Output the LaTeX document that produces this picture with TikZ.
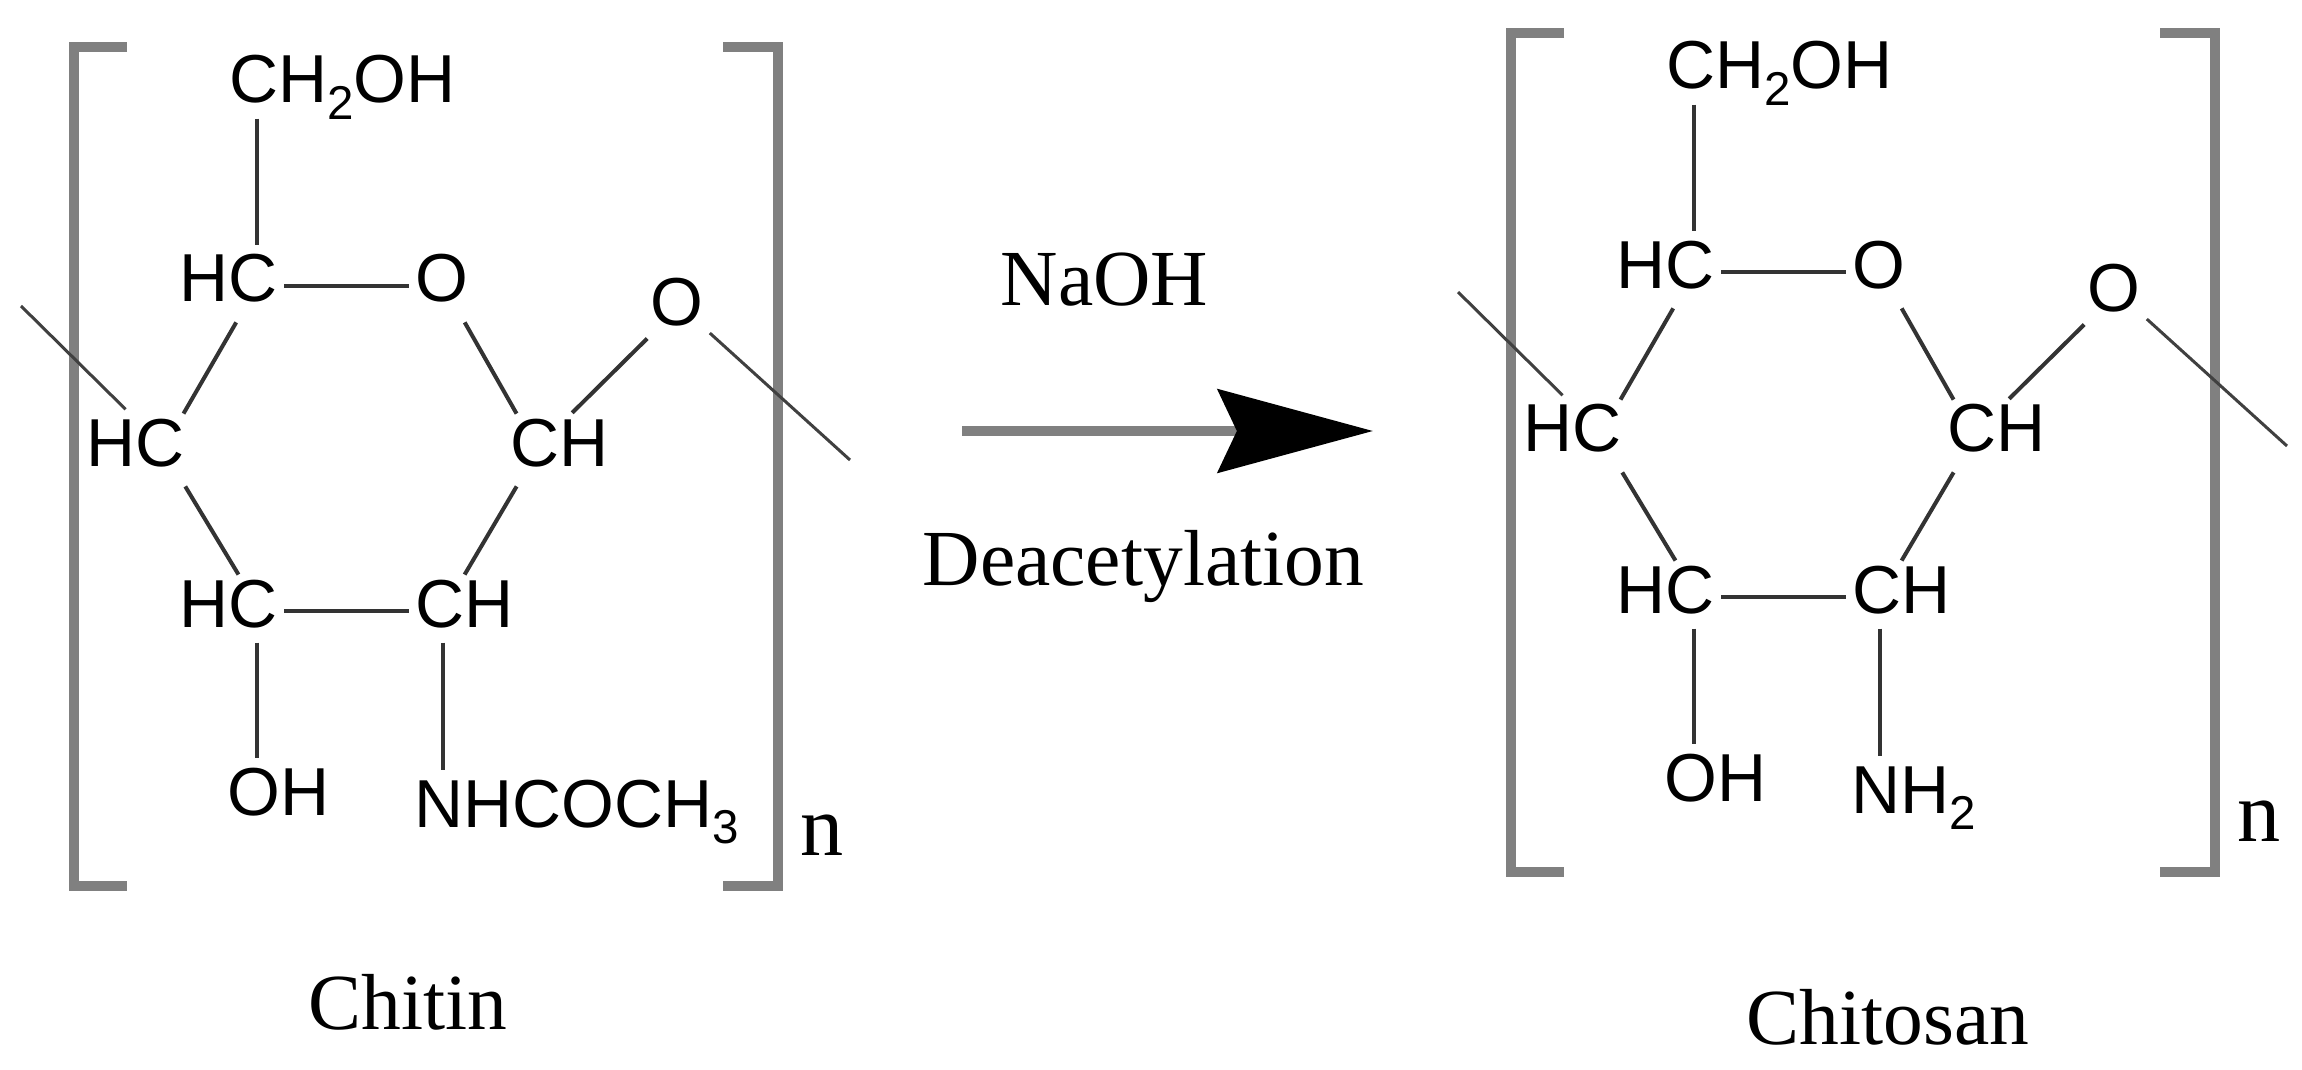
\documentclass[tikz,border=0pt]{standalone}
\usepackage{fontspec}
\setmainfont{Liberation Serif}
\newfontfamily\chemfont{Liberation Sans}
\usetikzlibrary{arrows.meta}
\newcommand{\chemsub}[1]{\raisebox{-0.16cm}{\fontsize{13.5}{14}\selectfont #1}}
\tikzstyle{atom} = [anchor=base west, inner xsep=0.06cm, inner ysep=0pt,
text height=0.56cm,
text depth=0.24cm,
font=\chemfont\fontsize{19.3}{22}\selectfont]
\tikzstyle{caption} = [anchor=base west, inner sep=0pt,
font=\fontsize{22.6}{26}\selectfont]
\tikzstyle{repeat} = [anchor=base west, inner sep=0pt,
font=\fontsize{24.5}{26}\selectfont]
\tikzstyle{bond} = [line width=0.04cm, draw=black!80]
\tikzstyle{ringbond} = [bond, shorten <=-0.05cm, shorten >=-0.05cm]
\tikzstyle{stem} = [bond, shorten <=-0.09cm]
\tikzstyle{thinbond} = [line width=0.03cm, draw=black!75]
\tikzstyle{sidebracket} = [line width=0.1cm, draw=black!50]
\tikzstyle{reaction} = [line width=0.1cm, draw=black!50,
-{Stealth[black,length=1.55cm,width=0.83cm,inset=0.19cm]}]

\begin{document}
\begin{tikzpicture}[x=0.01cm,y=-0.01cm]
        \useasboundingbox (0,0) rectangle (2302,1070);
        \foreach \u/\sx/\sy/\grp in {a/0/0/{NHCOCH\chemsub{3}}, b/1437/-14/{NH\chemsub{2}}} {
        \begin{scope}[shift={(\sx,\sy)}]
        \draw [sidebracket] (127,47) -- (74,47) -- (74,886) -- (127,886);
        \draw [sidebracket] (723,47) -- (778,47) -- (778,886) -- (723,886);
        \node (\u top) [atom] at (222.6,103) {CH\chemsub{2}OH};
        \node (\u c5) [atom] at (173,302) {HC};
        \node (\u o5) [atom] at (408.6,302) {O};
        \node (\u o1) [atom] at (643.6,325) {O};
        \node (\u c4) [atom] at (80,466) {HC};
        \node (\u c1) [atom] at (503.6,466) {CH};
        \node (\u c3) [atom] at (173,627) {HC};
        \node (\u c2) [atom] at (408.6,627) {CH};
        \node (\u oh) [atom] at (220.6,815) {OH};
        \node (\u grp) [atom] at (408,827) {\grp};
        \node (\u n) [repeat] at (800,855) {n};
        \coordinate (\u left) at (21,306);
        \coordinate (\u right) at (850,460);
        \draw [stem] (\u c5.55 |- \u top.south) -- (\u c5.55);
        \draw [bond] (\u c5.east) -- (\u o5.west);
        \draw [ringbond] (\u c5.-83) -- (\u c4.39);
        \draw [ringbond] (\u c4.-38) -- (\u c3.80);
        \draw [bond] (\u c3.east) -- (\u c2.west);
        \draw [stem] (\u c3.-55) -- (\u c3.-55 |- \u oh.north);
        \draw [stem] (\u c2.-118) -- (\u c2.-118 |- \u grp.north);
        \draw [ringbond] (\u c2.86) -- (\u c1.222);
        \draw [ringbond] (\u c1.138) -- (\u o5.-58);
        \draw [ringbond] (\u c1.68) -- (\u o1.225);
        \draw [thinbond] (\u left) -- (\u c4.104);
        \draw [thinbond] (\u o1.-36) -- (\u right);
        \end{scope}
        }
        \node (chitin) [caption] at (308,1029) {Chitin};
        \node (chitosan) [caption] at (1746,1044) {Chitosan};
        \node (naoh) [caption] at (1000,305) {NaOH};
        \node (deacet) [caption] at (922,585) {Deacetylation};
        \coordinate (rstart) at (962,431);
        \coordinate (rend) at (1373,431);
        \draw [reaction] (rstart) -- (rend);
    \end{tikzpicture}
\end{document}
